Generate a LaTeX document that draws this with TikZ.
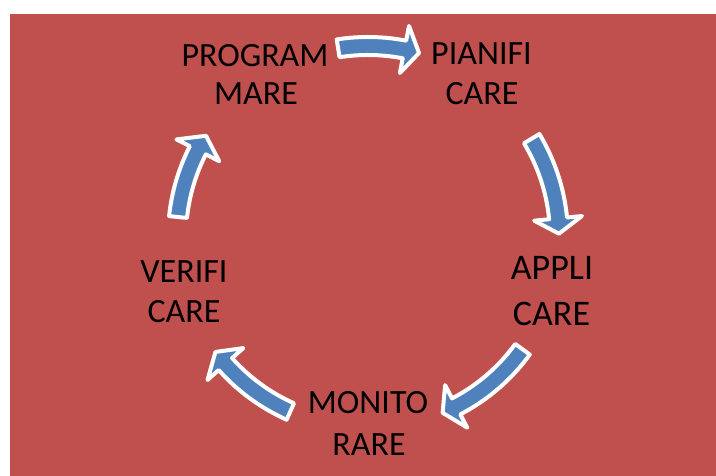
\documentclass[tikz,border=0pt]{standalone}
\usepackage{fontspec}
\setmainfont{Carlito}
\definecolor{bgred}{HTML}{C0504D}
\definecolor{arrblue}{HTML}{4F81BD}
\tikzset{
  lbl/.style={inner sep=0pt, anchor=base, text=black, font=\fontsize{34}{40}\selectfont},
  lblbig/.style={lbl, font=\fontsize{36}{44}\selectfont},
  blockarrow/.style={fill=arrblue, draw=white, line width=4pt, line join=round}
}
\newcommand{\cycarrow}[3]{%
  \draw[blockarrow] (#1:200) arc[start angle=#1, end angle=#2, radius=200]
    -- (#2:215) -- (#3:191) -- (#2:167) -- (#2:182)
    arc[start angle=#2, end angle=#1, radius=182] -- cycle;}
\begin{document}
\begin{tikzpicture}[x=1pt, y=1pt]
  \useasboundingbox (0,0) rectangle (716,476);
  \fill[bgred] (10,0) rectangle (716,462);
  \coordinate (ctr) at (368,239);
  \begin{scope}[shift={(ctr)}]
    \cycarrow{99}{79}{74.5}
    \cycarrow{31}{5.6}{1}
    \cycarrow{-36}{-62.5}{-67}
    \cycarrow{-114}{-138.3}{-143}
    \cycarrow{174}{153}{148}
  \end{scope}
  \node[lbl] (prog1) at (255,409) {PROGRAM};
  \node[lbl] (prog2) at (256,371) {MARE};
  \node[lbl] (pian1) at (481.5,411) {PIANIFI};
  \node[lbl] (pian2) at (482,371) {CARE};
  \node[lblbig] (appl1) at (552,196) {APPLI};
  \node[lblbig] (appl2) at (551.5,150) {CARE};
  \node[lbl] (moni1) at (368,62) {MONITO};
  \node[lbl] (moni2) at (369,20) {RARE};
  \node[lbl] (veri1) at (184,193) {VERIFI};
  \node[lbl] (veri2) at (184,153) {CARE};
\end{tikzpicture}
\end{document}
